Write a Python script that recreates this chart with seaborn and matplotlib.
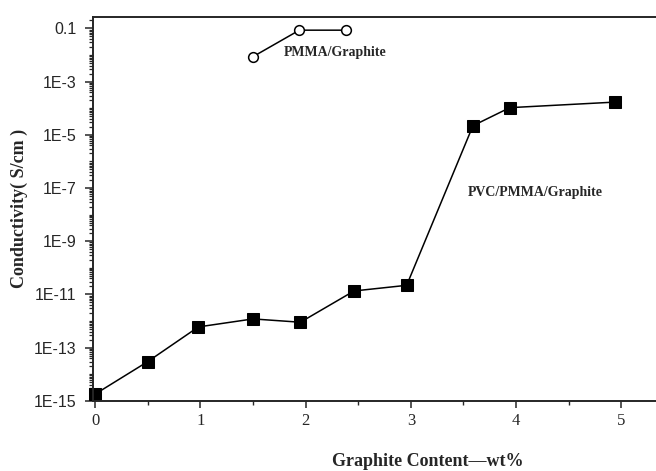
import matplotlib
matplotlib.use('Agg')
import matplotlib.pyplot as plt
from matplotlib.ticker import MultipleLocator, LogLocator, NullFormatter
import seaborn as sns
import numpy as np
import pandas as pd

# data
pvc_x = [0.0, 0.5, 0.98, 1.5, 1.95, 2.46, 2.96, 3.59, 3.94, 4.94]
pvc_y = [1.8e-15, 3e-14, 6e-13, 1.2e-12, 9e-13, 1.35e-11, 2.2e-11, 2.2e-5, 1.05e-4, 1.7e-4]
pmma_x = [1.5, 1.94, 2.38]
pmma_y = [8.7e-3, 0.086, 0.086]

yticks = [1e-15, 1e-13, 1e-11, 1e-9, 1e-7, 1e-5, 1e-3, 0.1]
ytick_labels = ['1E-15', '1E-13', '1E-11', '1E-9', '1E-7', '1E-5', '1E-3', '0.1']
xticks = [0, 1, 2, 3, 4, 5]

df_pvc = pd.DataFrame({'x': pvc_x, 'y': pvc_y})
df_pmma = pd.DataFrame({'x': pmma_x, 'y': pmma_y})

sns.set_style('ticks')
plt.rcParams['font.family'] = 'Liberation Serif'

fig = plt.figure(figsize=(6.56, 4.71), dpi=100)
ax = fig.add_axes([0.142, 0.149, 0.858, 0.815])

sns.lineplot(data=df_pvc, x='x', y='y', ax=ax, color='k', marker='s',
             markersize=8, markeredgecolor='k', markerfacecolor='k', linewidth=1.1,
             clip_on=False)
sns.lineplot(data=df_pmma, x='x', y='y', ax=ax, color='k', marker='o',
             markersize=7, markeredgecolor='k', markerfacecolor='white',
             markeredgewidth=1.1, linewidth=1.1, clip_on=False)

ax.set_yscale('log')
ax.set_ylim(1e-15, 0.27)
ax.set_xlim(-0.02, 5.33)

ax.set_yticks(yticks)
ax.set_yticklabels(ytick_labels, family='Liberation Sans', fontsize=11.5)
ax.yaxis.set_minor_locator(LogLocator(base=10, subs=np.arange(1, 10), numticks=40))
ax.yaxis.set_minor_formatter(NullFormatter())
ax.set_xticks(xticks)
ax.set_xticklabels([str(t) for t in xticks], fontsize=12)
ax.xaxis.set_minor_locator(MultipleLocator(0.5))

ax.tick_params(axis='y', which='major', direction='out', length=6, width=1.1, pad=6)
ax.tick_params(axis='y', which='minor', direction='out', length=3, width=0.9)
ax.tick_params(axis='x', which='major', direction='out', length=5, width=1.1)
ax.tick_params(axis='x', which='minor', direction='out', length=3, width=1.0)

ax.spines['right'].set_visible(False)
for s in ['left', 'bottom', 'top']:
    ax.spines[s].set_linewidth(1.4)

ax.set_ylabel('Conductivity( S/cm )', fontsize=13, fontweight='bold')
ax.set_xlabel('Graphite Content\u2014wt%', fontsize=13, fontweight='bold')
ax.xaxis.set_label_coords(0.595, -0.135)
ax.yaxis.set_label_coords(-0.115, 0.5)

ax.text(1.79, 1.2e-2, 'PMMA/Graphite', fontsize=10, fontweight='bold', va='center', ha='left')
ax.text(3.54, 7e-8, 'PVC/PMMA/Graphite', fontsize=10, fontweight='bold', va='center', ha='left')

fig.savefig('out.png', dpi=100)
